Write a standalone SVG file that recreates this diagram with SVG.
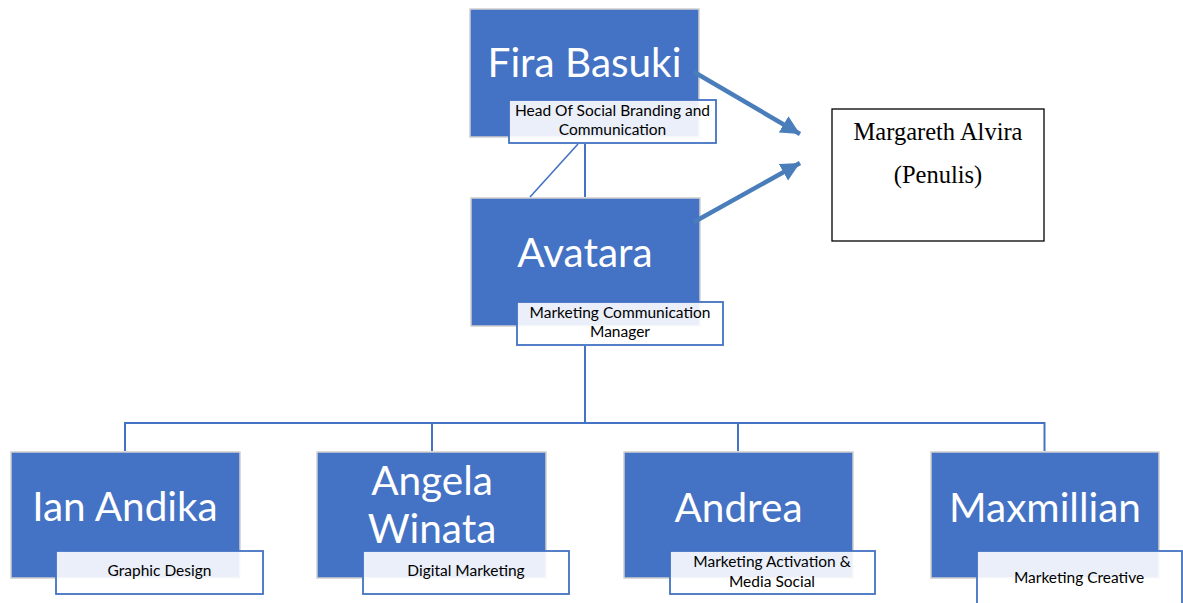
<svg xmlns="http://www.w3.org/2000/svg" width="1183" height="603" viewBox="0 0 1183 603">
  <style>
    .box { fill: #4472C4; stroke: #cfcfcf; stroke-width: 1.5; }
    .lbl { fill: #ffffff; fill-opacity: 0.89; stroke: #4472C4; stroke-width: 1.8; }
    .name { font-family: Lato, "Open Sans", sans-serif; font-size: 40.5px; fill: #ffffff; text-anchor: middle; }
    .role { font-family: Lato, "Open Sans", sans-serif; font-size: 15.5px; fill: #000000; text-anchor: middle; }
    .conn { stroke: #4472C4; stroke-width: 2; fill: none; }
    .arrow { stroke: #4A7EBB; stroke-width: 4.5; fill: none; marker-end: url(#head); }
    .serif { font-family: "Liberation Serif", "Times New Roman", serif; font-size: 24.5px; fill: #000000; text-anchor: middle; }
  </style>
  <defs>
    <marker id="head" markerUnits="userSpaceOnUse" markerWidth="22" markerHeight="22" refX="19" refY="9.5" orient="auto">
      <path d="M0,0 L19,9.5 L0,19 Z" fill="#4A7EBB"/>
    </marker>
  </defs>
  <rect width="1183" height="603" fill="#ffffff"/>

  <g id="fira">
    <rect class="box" x="470" y="9" width="229" height="128"/>
    <text class="name" x="584.5" y="77">Fira Basuki</text>
    <rect class="lbl" x="509" y="100" width="207" height="43"/>
    <text class="role" x="612.5" y="116">Head Of Social Branding and</text>
    <text class="role" x="612.5" y="135">Communication</text>
  </g>

  <g id="avatara">
    <rect class="box" x="471" y="198" width="229" height="128"/>
    <text class="name" x="585" y="267">Avatara</text>
    <rect class="lbl" x="517" y="302" width="206" height="43"/>
    <text class="role" x="620" y="318">Marketing Communication</text>
    <text class="role" x="620" y="337">Manager</text>
  </g>

  <g id="penulis">
    <rect x="832" y="109" width="212" height="132" fill="#ffffff" stroke="#000000" stroke-width="1.3"/>
    <text class="serif" x="938" y="140">Margareth Alvira</text>
    <text class="serif" x="938" y="183">(Penulis)</text>
  </g>

  <g id="ian">
    <rect class="box" x="11" y="452" width="229" height="126"/>
    <text class="name" x="125" y="521">Ian Andika</text>
    <rect class="lbl" x="56" y="551" width="207" height="43"/>
    <text class="role" x="159.5" y="576">Graphic Design</text>
  </g>

  <g id="angela">
    <rect class="box" x="317" y="452" width="229" height="126"/>
    <text class="name" x="432" y="495">Angela</text>
    <text class="name" x="432" y="543">Winata</text>
    <rect class="lbl" x="363" y="551" width="206" height="43"/>
    <text class="role" x="466" y="576">Digital Marketing</text>
  </g>

  <g id="andrea">
    <rect class="box" x="624" y="452" width="229" height="126"/>
    <text class="name" x="738.5" y="522">Andrea</text>
    <rect class="lbl" x="670" y="551" width="205" height="43"/>
    <text class="role" x="772" y="567">Marketing Activation &amp;</text>
    <text class="role" x="772" y="587">Media Social</text>
  </g>

  <g id="maxmillian">
    <rect class="box" x="931" y="452" width="228" height="126"/>
    <text class="name" x="1045" y="522">Maxmillian</text>
    <rect class="lbl" x="977" y="551" width="205" height="60"/>
    <text class="role" x="1079" y="583">Marketing Creative</text>
  </g>

  <g id="connectors">
    <line class="conn" x1="585" y1="144" x2="585" y2="197"/>
    <line class="conn" x1="578" y1="144" x2="530" y2="197" style="stroke-width:1.6"/>
    <line class="conn" x1="585" y1="346" x2="585" y2="423"/>
    <line class="conn" x1="124.5" y1="423" x2="1045" y2="423"/>
    <line class="conn" x1="125" y1="422" x2="125" y2="451"/>
    <line class="conn" x1="432" y1="422" x2="432" y2="451"/>
    <line class="conn" x1="738" y1="422" x2="738" y2="451"/>
    <line class="conn" x1="1044.5" y1="422" x2="1044.5" y2="451"/>
    <line class="arrow" x1="694" y1="72" x2="800" y2="134"/>
    <line class="arrow" x1="694" y1="222" x2="800" y2="163"/>
  </g>
</svg>
